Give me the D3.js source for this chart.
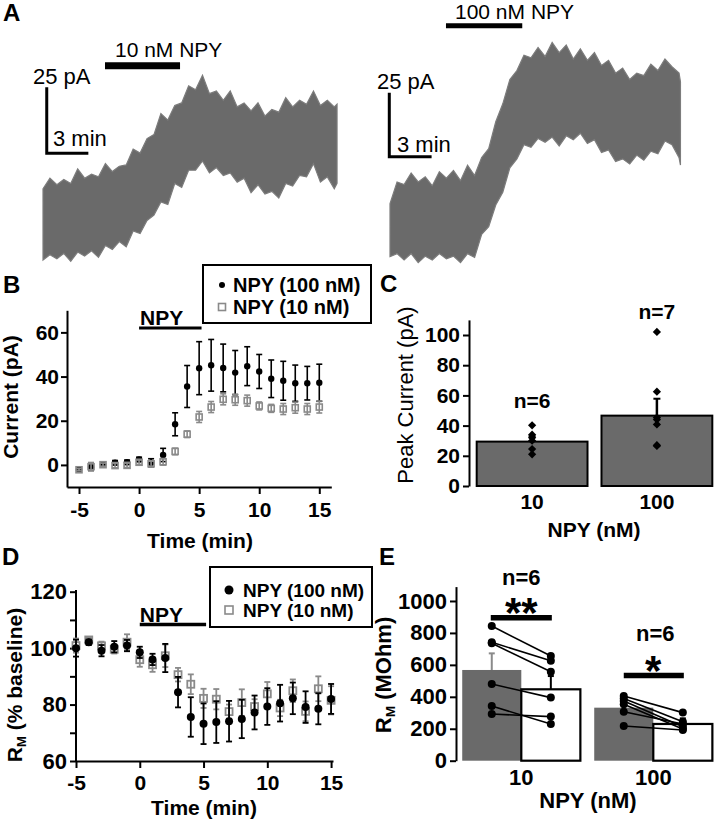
<!DOCTYPE html>
<html><head><meta charset="utf-8">
<script src="https://cdn.jsdelivr.net/npm/d3@7"></script>
<style>
body{margin:0;background:#fff;}
svg{display:block;font-family:"Liberation Sans",Arial,Helvetica,sans-serif;}
</style></head><body>
<svg id="fig" width="714" height="823"></svg>
<script>
// ================= DATA =================
// Panel A – current trace envelopes (time: min from trace start, current: pA)
const leftT = [0,0.5,1,1.5,2,2.5,3,3.5,4,4.5,5,5.5,6,6.5,7,7.5,8,8.5,9,9.5,10,10.5,11,11.5,12,12.5,13,13.5,14,14.5,15,15.5,16,16.5,17,17.5,18,18.5,19,19.5,20,20.5,21,21.2];
const leftTop = [27, 31, 28.5, 30.5, 29, 34.5, 31, 32.5, 31.5, 36.5, 33.5, 35.5, 36, 42, 40.5, 46, 47.5, 55.5, 53, 58.5, 59.5, 66, 64.5, 70, 63, 64, 60.5, 64, 58, 59.5, 56.5, 59.5, 54.5, 57, 56, 61.5, 58, 60.5, 59, 64, 58.5, 60.5, 58, 59];
const leftBot = [0, 2, 0.5, 2.5, -0.5, 3, 1.5, 3.5, 1, 5.5, 4, 7, 5, 11, 10, 15, 17, 22, 21, 29, 27.5, 34, 34, 37.5, 33, 35, 32, 33, 29.5, 31, 25.5, 28.5, 25, 26, 23.5, 29, 28, 32, 31.5, 36.5, 29.5, 31.5, 27, 29];
const rightT = [0,0.5,1,1.5,2,2.5,3,3.5,4,4.5,5,5.5,6,6.5,7,7.5,8,8.5,9,9.5,10,10.5,11,11.5,12,12.5,13,13.5,14,14.5,15,15.5,16,16.5,17,17.5,18,18.5,19,19.5,20,20.5,20.6];
const rightTop = [22, 30.5, 29.5, 34, 30.5, 32.5, 29, 34.5, 32, 35, 31, 37, 33, 40, 43.5, 54, 61, 70.5, 74, 80, 79, 83, 79.5, 85, 81, 84, 78.5, 82.5, 78, 81, 76, 78, 73, 75, 70.5, 73, 72, 76.5, 74, 78.5, 75.5, 73, 69.6];
const rightBot = [1.3, 2.5, 0, 2.5, -1, 1.5, 0, 2.5, 0.5, 1.5, -1, 2.5, 1, 10, 13, 21.5, 26.5, 36, 39.5, 45, 44, 47.5, 46, 48, 44.5, 48.5, 47, 49.5, 45.5, 47, 42, 43, 38.5, 39.5, 37.5, 41, 39, 42.5, 41.5, 46.5, 45, 40, 37.1];
const leftNpyWindow = [4.47, 9.88];
const rightNpyWindow = [3.97, 9.38];
const traceLabels = ["10 nM NPY", "100 nM NPY"];
const scaleBarPA = 25, scaleBarMin = 3;

// Panel B – current vs time
const timeMin = [-5,-4,-3,-2,-1,0,1,2,3,4,5,6,7,8,9,10,11,12,13,14,15];
const cur100 = [-2.2, -1.0, 0.3, 1.0, 1.2, 2.5, 1.0, 4.5, 18.4, 35.5, 43.8, 45.1, 43.9, 41.8, 44.7, 42.3, 39.0, 38.1, 37.0, 37.0, 37.2];
const cur100Sem = [0.6, 1.5, 0.8, 1.0, 1.0, 1.0, 1.8, 3.0, 5.2, 9.5, 12.0, 11.7, 10.8, 10.0, 8.8, 7.7, 8.5, 8.8, 8.2, 7.6, 8.4];
const cur10 = [-2.2, -0.8, 0.1, -0.3, -0.2, 1.2, 0.5, 1.4, 6.1, 13.9, 21.7, 26.2, 29.7, 29.5, 29.1, 26.7, 25.6, 25.3, 25.9, 25.3, 26.2];
const cur10Sem = [0.5, 1.9, 0.7, 1.0, 1.0, 1.0, 1.2, 1.5, 1.5, 1.5, 2.5, 2.5, 2.5, 2.5, 2.5, 1.8, 1.8, 2.5, 2.5, 2.5, 2.7];
const npyWindow = [0, 5.2];
const legendLabels = ["NPY (100 nM)", "NPY (10 nM)"];
const ticksB = [-5, 0, 5, 10, 15];
const ticksBy = [0, 20, 40, 60];

// Panel C – peak current
const doseGroups = ["10", "100"];
const peakMean = [29.4, 46.6];
const peakSem = [3.5, 11.2];
const peak10 = [40.2, 34, 32, 30, 24.5, 21];
const peak100 = [102, 62.5, 45.3, 44, 40.8, 27, 26.5];
const nLabelsC = ["n=6", "n=7"];
const ticksCy = [0, 20, 40, 60, 80, 100];

// Panel D – membrane resistance (% baseline)
const rm100 = [100, 102.1, 99.1, 100.5, 100.9, 98.5, 96, 96.5, 84.4, 75.6, 73.2, 73.8, 74.1, 74.9, 77.2, 79.3, 80.5, 82.2, 79.1, 78.5, 82];
const rm100Sem = [3, 1, 2, 2, 2, 2, 2, 5, 5.4, 7, 7.2, 7.4, 7.2, 6.8, 6, 6.5, 6.5, 5.6, 5.6, 5.5, 5.3];
const rm10 = [100.9, 102.9, 100.8, 99.6, 102.1, 95.9, 94.1, 97.3, 90.6, 87.2, 82.2, 81.9, 77.5, 80.7, 79.3, 83.8, 78.8, 84.9, 77.6, 85.6, 81.5];
const rm10Sem = [2.5, 1, 1.5, 1.5, 2.8, 2.5, 2.5, 4, 2.4, 3.5, 3.4, 3.6, 2.5, 4.7, 2.6, 4.2, 2.9, 4, 3.5, 4.4, 5];
const ticksDy = [60, 80, 100, 120];
const minorTicksDy = [70, 90, 110];

// Panel E – membrane resistance (MOhm), baseline vs NPY
const rmBaseMean = [568, 332];
const rmBaseSem = [104, 40];
const rmNpyMean = [447, 230];
const rmNpySem = [83, 35];
const pairs10Base = [843, 741, 735, 480, 342, 292];
const pairs10Npy = [655, 626, 557, 395, 230, 276];
const pairs100Base = [405, 390, 374, 353, 307, 217];
const pairs100Npy = [301, 244, 213, 198, 230, 192];
const nLabelsE = ["n=6", "n=6"];
const sigLabels = ["**", "*"];
const ticksEy = [0, 200, 400, 600, 800, 1000];

// ================= DRAWING =================
const svg = d3.select("#fig");
const GRAY = "#6a6a6a", LGRAY = "#8a8a8a";
const fmt = d => (d < 0 ? "-" + Math.abs(d) : String(d));

function txt(g, x, y, s, size, weight, anchor) {
  return g.append("text").attr("x", x).attr("y", y).text(s)
    .attr("font-size", size).attr("font-weight", weight || "bold")
    .attr("text-anchor", anchor || "start").attr("fill", "#000");
}
function styleAxis(g, size) {
  g.selectAll("path.domain").attr("stroke", "#000").attr("stroke-width", 2);
  g.selectAll(".tick line").attr("stroke", "#000").attr("stroke-width", 2);
  g.selectAll(".tick text").attr("font-size", size).attr("font-weight", "bold")
    .attr("fill", "#000").attr("font-family", "Liberation Sans, Arial, sans-serif");
}
function ylabel(g, cx, cy, parts, size, weight) {
  const t = g.append("text").attr("transform", `translate(${cx},${cy}) rotate(-90)`)
    .attr("text-anchor", "middle").attr("font-weight", weight || "bold").attr("font-size", size)
    .attr("dy", "0.35em");
  parts.forEach(p => {
    const ts = t.append("tspan").text(p.t);
    if (p.sub) ts.attr("font-size", size * 0.62).attr("dy", 4);
    else if (p.after) ts.attr("dy", -4);
  });
  return t;
}

// ---------- Panel letters ----------
[["A",3,21],["B",3,293],["C",380,292],["D",2,565],["E",379,565]].forEach(d =>
  txt(svg, d[1], d[2], d[0], 24, "bold"));

// ---------- Panel A ----------
function drawTrace(T, top, bot, x0, y0, pxMin, pxPA, win, barPA, barW, corner, label, labelPos, pALabelPos, minLabelPos) {
  const xs = d3.scaleLinear().domain([0, 1]).range([x0, x0 + pxMin]);
  const ys = d3.scaleLinear().domain([0, 1]).range([y0, y0 - pxPA]);
  const area = d3.area().x((d, i) => xs(T[i])).y0((d, i) => ys(bot[i])).y1((d, i) => ys(top[i]));
  svg.append("path").attr("d", area(T)).attr("fill", GRAY).attr("stroke", "#7c7c7c").attr("stroke-width", 1.2);
  svg.append("line").attr("x1", xs(win[0])).attr("x2", xs(win[1])).attr("y1", ys(barPA)).attr("y2", ys(barPA))
    .attr("stroke", "#000").attr("stroke-width", barW);
  const sb = d3.path();
  sb.moveTo(xs(corner[0]), ys(corner[1] + scaleBarPA));
  sb.lineTo(xs(corner[0]), ys(corner[1]));
  sb.lineTo(xs(corner[0] + scaleBarMin), ys(corner[1]));
  svg.append("path").attr("d", sb.toString()).attr("fill", "none").attr("stroke", "#000").attr("stroke-width", 3);
  txt(svg, labelPos[0], labelPos[1], label, 21, "normal");
  txt(svg, pALabelPos[0], pALabelPos[1], scaleBarPA + " pA", 22, "normal");
  txt(svg, minLabelPos[0], minLabelPos[1], scaleBarMin + " min", 22, "normal");
}
drawTrace(leftT, leftTop, leftBot, 43, 260, 13.87, 2.64, leftNpyWindow, 73.6, 7,
  [0.27, 40.4], traceLabels[0], [115, 57], [33, 84], [53, 146]);
drawTrace(rightT, rightTop, rightBot, 390, 260, 14.1, 2.56, rightNpyWindow, 91.5, 5,
  [-0.05, 40.35], traceLabels[1], [455, 19], [377, 89], [397, 152]);

// ---------- Panel B ----------
{
  const g = svg.append("g");
  const x = d3.scaleLinear().domain([-6, 16]).range([67, 331.3]);
  const y = d3.scaleLinear().domain([-10, 70]).range([487, 310.3]);
  const ax = g.append("g").attr("transform", `translate(0,${y(-10)})`)
    .call(d3.axisBottom(x).tickValues(ticksB).tickFormat(fmt).tickSize(7).tickPadding(8).tickSizeOuter(0));
  styleAxis(ax, 21);
  const ay = g.append("g").attr("transform", `translate(${x(-6)},0)`)
    .call(d3.axisLeft(y).tickValues(ticksBy).tickFormat(fmt).tickSize(6).tickPadding(2).tickSizeOuter(0));
  styleAxis(ay, 21);
  const series = [
    {v: cur100, e: cur100Sem, col: "#000", sym: "circle"},
    {v: cur10, e: cur10Sem, col: LGRAY, sym: "square"}
  ];
  series.forEach(s => {
    const sg = g.append("g");
    timeMin.forEach((t, i) => {
      const cx = x(t), lo = y(s.v[i] - s.e[i]), hi = y(s.v[i] + s.e[i]);
      sg.append("line").attr("x1", cx).attr("x2", cx).attr("y1", lo).attr("y2", hi).attr("stroke", s.col).attr("stroke-width", 1.6);
      [lo, hi].forEach(yy => sg.append("line").attr("x1", cx - 3).attr("x2", cx + 3).attr("y1", yy).attr("y2", yy).attr("stroke", s.col).attr("stroke-width", 1.6));
      if (s.sym === "circle") sg.append("circle").attr("cx", cx).attr("cy", y(s.v[i])).attr("r", 3.2).attr("fill", "#000");
      else sg.append("rect").attr("x", cx - 3).attr("y", y(s.v[i]) - 3).attr("width", 6).attr("height", 6)
        .attr("fill", "none").attr("stroke", s.col).attr("stroke-width", 1.6);
    });
  });
  g.append("line").attr("x1", x(npyWindow[0])).attr("x2", x(npyWindow[1])).attr("y1", 328).attr("y2", 328).attr("stroke", "#000").attr("stroke-width", 3);
  txt(g, x(npyWindow[0]) + 1, 325, "NPY", 21, "bold");
  g.append("rect").attr("x", 203).attr("y", 265).attr("width", 168).attr("height", 58).attr("fill", "#fff").attr("stroke", "#000").attr("stroke-width", 2);
  g.append("circle").attr("cx", 222).attr("cy", 285).attr("r", 3).attr("fill", "#000");
  g.append("rect").attr("x", 218.5).attr("y", 303.5).attr("width", 7).attr("height", 7).attr("fill", "none").attr("stroke", LGRAY).attr("stroke-width", 1.6);
  txt(g, 233, 292, legendLabels[0], 20, "bold");
  txt(g, 233, 314, legendLabels[1], 20, "bold");
  txt(g, 200, 548, "Time (min)", 21, "bold", "middle");
  ylabel(g, 11, 397, [{t: "Current (pA)"}], 21);
}

// ---------- Panel C ----------
{
  const g = svg.append("g");
  const x = d3.scaleBand().domain(doseGroups).range([469.7, 719.3]).paddingInner(0.112).paddingOuter(0.056);
  const y = d3.scaleLinear().domain([0, 110]).range([486, 319.9]);
  const ay = g.append("g").attr("transform", `translate(469,0)`)
    .call(d3.axisLeft(y).tickValues(ticksCy).tickFormat(fmt).tickSize(6).tickPadding(3).tickSizeOuter(0));
  styleAxis(ay, 21);
  const pts = [peak10, peak100];
  doseGroups.forEach((d, i) => {
    const x0 = x(d), w = x.bandwidth(), cx = x0 + w / 2;
    g.append("rect").attr("x", x0).attr("y", y(peakMean[i])).attr("width", w).attr("height", y(0) - y(peakMean[i]))
      .attr("fill", GRAY).attr("stroke", "#000").attr("stroke-width", 2);
    g.append("line").attr("x1", cx).attr("x2", cx).attr("y1", y(peakMean[i])).attr("y2", y(peakMean[i] + peakSem[i])).attr("stroke", "#000").attr("stroke-width", 2.5);
    g.append("line").attr("x1", cx - 3.5).attr("x2", cx + 3.5).attr("y1", y(peakMean[i] + peakSem[i])).attr("y2", y(peakMean[i] + peakSem[i])).attr("stroke", "#000").attr("stroke-width", 2);
    pts[i].forEach(v => g.append("path").attr("d", d3.symbol(d3.symbolSquare, 34)())
      .attr("transform", `translate(${cx},${y(v)}) rotate(45)`).attr("fill", "#000"));
    txt(g, cx, 508.5, d, 21, "bold", "middle");
  });
  txt(g, x("10") + x.bandwidth() / 2, 407.7, nLabelsC[0], 21, "bold", "middle");
  txt(g, x("100") + x.bandwidth() / 2, 319.3, nLabelsC[1], 21, "bold", "middle");
  txt(g, 594, 537, "NPY (nM)", 21, "bold", "middle");
  ylabel(g, 405, 395, [{t: "Peak Current (pA)"}], 22, "normal");
}

// ---------- Panel D ----------
{
  const g = svg.append("g");
  const x = d3.scaleLinear().domain([-5, 15.15]).range([76, 333]);
  const y = d3.scaleLinear().domain([60, 120]).range([761, 591.7]);
  const ax = g.append("g").attr("transform", `translate(0,${y(60)})`)
    .call(d3.axisBottom(x).tickValues(ticksB).tickFormat(fmt).tickSize(7).tickPadding(7).tickSizeOuter(0));
  styleAxis(ax, 21);
  const ay = g.append("g").attr("transform", `translate(${x(-5)},0)`)
    .call(d3.axisLeft(y).tickValues(ticksDy).tickFormat(fmt).tickSize(6).tickPadding(3).tickSizeOuter(0));
  styleAxis(ay, 22);
  ay.select("path.domain").attr("d", `M0,${y(60)}V590`);
  const am = g.append("g").attr("transform", `translate(${x(-5)},0)`)
    .call(d3.axisLeft(y).tickValues(minorTicksDy).tickSize(6).tickFormat("").tickSizeOuter(0));
  styleAxis(am, 22);
  am.select("path.domain").remove();
  const series = [
    {v: rm10, e: rm10Sem, col: LGRAY, sym: "square"},
    {v: rm100, e: rm100Sem, col: "#000", sym: "circle"}
  ];
  series.forEach(s => {
    const sg = g.append("g");
    timeMin.forEach((t, i) => {
      const cx = x(t), lo = y(s.v[i] - s.e[i]), hi = y(s.v[i] + s.e[i]);
      sg.append("line").attr("x1", cx).attr("x2", cx).attr("y1", lo).attr("y2", hi).attr("stroke", s.col).attr("stroke-width", 1.8);
      [lo, hi].forEach(yy => sg.append("line").attr("x1", cx - 3).attr("x2", cx + 3).attr("y1", yy).attr("y2", yy).attr("stroke", s.col).attr("stroke-width", 1.8));
      if (s.sym === "circle") sg.append("circle").attr("cx", cx).attr("cy", y(s.v[i])).attr("r", 4).attr("fill", "#000");
      else sg.append("rect").attr("x", cx - 3.5).attr("y", y(s.v[i]) - 3.5).attr("width", 7).attr("height", 7)
        .attr("fill", "none").attr("stroke", s.col).attr("stroke-width", 1.8);
    });
  });
  g.append("line").attr("x1", x(npyWindow[0])).attr("x2", x(npyWindow[1])).attr("y1", 624.5).attr("y2", 624.5).attr("stroke", "#000").attr("stroke-width", 3.5);
  txt(g, x(npyWindow[0]), 622, "NPY", 21, "bold");
  g.append("rect").attr("x", 210).attr("y", 567).attr("width", 162).attr("height", 60).attr("fill", "#fff").attr("stroke", "#000").attr("stroke-width", 2);
  g.append("circle").attr("cx", 229).attr("cy", 590).attr("r", 4.5).attr("fill", "#000");
  g.append("rect").attr("x", 225).attr("y", 606).attr("width", 8).attr("height", 8).attr("fill", "none").attr("stroke", LGRAY).attr("stroke-width", 1.6);
  txt(g, 243, 597, legendLabels[0], 19, "bold");
  txt(g, 243, 617, legendLabels[1], 19, "bold");
  txt(g, 204, 815, "Time (min)", 21, "bold", "middle");
  ylabel(g, 15, 685, [{t: "R"}, {t: "M", sub: true}, {t: " (% baseline)", after: true}], 21);
}

// ---------- Panel E ----------
{
  const g = svg.append("g");
  const x = d3.scaleBand().domain(doseGroups).range([455.3, 719.3]).paddingInner(0.105).paddingOuter(0.0525);
  const y = d3.scaleLinear().domain([0, 1090]).range([760.7, 586.6]);
  const ay = g.append("g").attr("transform", `translate(456,0)`)
    .call(d3.axisLeft(y).tickValues(ticksEy).tickFormat(fmt).tickSize(6).tickPadding(3).tickSizeOuter(0));
  styleAxis(ay, 22);
  const pairs = [[pairs10Base, pairs10Npy], [pairs100Base, pairs100Npy]];
  doseGroups.forEach((d, i) => {
    const x0 = x(d), hw = x.bandwidth() / 2;
    const cB = x0 + hw / 2, cN = x0 + hw * 1.5;
    g.append("rect").attr("x", x0).attr("y", y(rmBaseMean[i])).attr("width", hw).attr("height", y(0) - y(rmBaseMean[i])).attr("fill", GRAY);
    g.append("line").attr("x1", cB).attr("x2", cB).attr("y1", y(rmBaseMean[i])).attr("y2", y(rmBaseMean[i] + rmBaseSem[i])).attr("stroke", LGRAY).attr("stroke-width", 2);
    g.append("line").attr("x1", cB - 3).attr("x2", cB + 3).attr("y1", y(rmBaseMean[i] + rmBaseSem[i])).attr("y2", y(rmBaseMean[i] + rmBaseSem[i])).attr("stroke", LGRAY).attr("stroke-width", 2);
    g.append("rect").attr("x", x0 + hw).attr("y", y(rmNpyMean[i])).attr("width", hw).attr("height", y(0) - y(rmNpyMean[i]))
      .attr("fill", "#fff").attr("stroke", "#000").attr("stroke-width", 2.2);
    g.append("line").attr("x1", cN).attr("x2", cN).attr("y1", y(rmNpyMean[i])).attr("y2", y(rmNpyMean[i] + rmNpySem[i])).attr("stroke", "#000").attr("stroke-width", 2);
    g.append("line").attr("x1", cN - 3).attr("x2", cN + 3).attr("y1", y(rmNpyMean[i] + rmNpySem[i])).attr("y2", y(rmNpyMean[i] + rmNpySem[i])).attr("stroke", "#000").attr("stroke-width", 2);
    const [pb, pn] = pairs[i];
    pb.forEach((v, k) => {
      g.append("line").attr("x1", cB).attr("x2", cN).attr("y1", y(v)).attr("y2", y(pn[k])).attr("stroke", "#000").attr("stroke-width", 1.6);
    });
    pb.forEach(v => g.append("circle").attr("cx", cB).attr("cy", y(v)).attr("r", 4).attr("fill", "#000"));
    pn.forEach(v => g.append("circle").attr("cx", cN).attr("cy", y(v)).attr("r", 4).attr("fill", "#000"));
    txt(g, x0 + hw, 785, d, 22, "bold", "middle");
  });
  const c10 = x("10"), c100 = x("100"), hw = x.bandwidth() / 2;
  g.append("line").attr("x1", c10 + hw / 2 - 1).attr("x2", c10 + hw * 1.5 + 1).attr("y1", 617.7).attr("y2", 617.7).attr("stroke", "#000").attr("stroke-width", 5.5);
  g.append("line").attr("x1", c100 + hw / 2).attr("x2", c100 + hw * 1.5 + 1).attr("y1", 675.5).attr("y2", 675.5).attr("stroke", "#000").attr("stroke-width", 5.5);
  txt(g, c10 + hw, 627, sigLabels[0], 42, "bold", "middle");
  txt(g, c100 + hw, 685, sigLabels[1], 42, "bold", "middle");
  txt(g, c10 + hw, 584.5, nLabelsE[0], 22, "bold", "middle");
  txt(g, c100 + hw + 2, 640.7, nLabelsE[1], 22, "bold", "middle");
  txt(g, 588, 808, "NPY (nM)", 22, "bold", "middle");
  ylabel(g, 383, 675, [{t: "R"}, {t: "M", sub: true}, {t: " (MOhm)", after: true}], 22);
}
</script>
</body></html>
